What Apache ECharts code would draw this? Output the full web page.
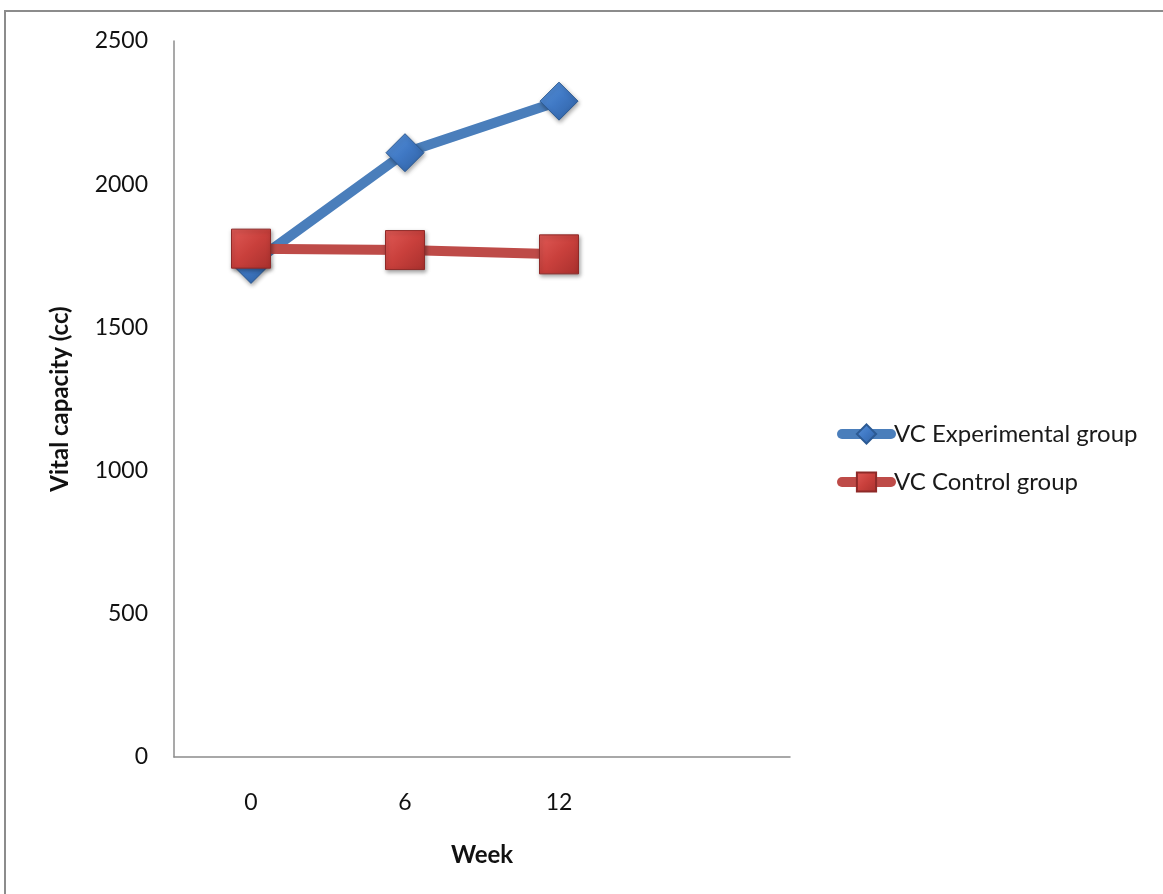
<!DOCTYPE html>
<html>
<head>
<meta charset="utf-8">
<style>
  html, body { margin: 0; padding: 0; background: #fff; }
  #chart { width: 1163px; height: 894px; }
</style>
<script src="https://cdn.jsdelivr.net/npm/echarts@6/dist/echarts.min.js"></script>
</head>
<body>
<div id="chart"></div>
<script>
// Week labels (the trailing empty slot leaves room on the right of the axis)
const weeks = ['0', '6', '12', ''];
// Vital capacity (cc) per group
const experimental = [1720, 2110, 2290];
const control = [1775, 1770, 1755];
const seriesNames = ['VC Experimental group', 'VC Control group'];

const FONT = 'Lato, "Open Sans", sans-serif';
const blue = '#4a7ebb';
const red = '#be4b48';

const chart = echarts.init(document.getElementById('chart'), null, { renderer: 'canvas' });

chart.setOption({
  animation: false,
  backgroundColor: '#ffffff',
  graphic: [{
    type: 'polyline',
    shape: { points: [[5, 900], [5, 11], [1170, 11]] },
    style: { stroke: '#8c8c8c', lineWidth: 2, fill: null },
    silent: true
  }],
  grid: { left: 174, top: 41, width: 616, height: 716 },
  legend: {
    left: 832,
    top: 417,
    orient: 'vertical',
    itemGap: 24,
    itemWidth: 49,
    itemHeight: 24,
    textStyle: { fontFamily: FONT, fontSize: 24, color: '#1a1a1a', padding: [0, 0, 0, -2] },
    data: [
      { name: seriesNames[0], lineStyle: { width: 10, cap: 'round' } },
      { name: seriesNames[1], lineStyle: { width: 10, cap: 'round' } }
    ]
  },
  xAxis: {
    type: 'category',
    data: weeks,
    boundaryGap: true,
    name: 'Week',
    nameLocation: 'middle',
    nameGap: 86,
    nameTextStyle: { fontFamily: FONT, fontSize: 24, fontWeight: 'bold', color: '#111' },
    axisLine: { lineStyle: { color: '#8c8c8c', width: 1.5 } },
    axisTick: { show: false },
    axisLabel: { fontFamily: FONT, fontSize: 23, color: '#111', margin: 34 },
    splitLine: { show: false }
  },
  yAxis: {
    type: 'value',
    min: 0,
    max: 2500,
    interval: 500,
    name: 'Vital capacity (cc)',
    nameLocation: 'middle',
    nameGap: 102,
    nameTextStyle: { fontFamily: FONT, fontSize: 24, fontWeight: 'bold', color: '#111' },
    axisLine: { show: true, lineStyle: { color: '#8c8c8c', width: 1.5 } },
    axisTick: { show: false },
    axisLabel: {
      fontFamily: FONT, fontSize: 23, color: '#111', margin: 26,
      formatter: (v) => String(v)
    },
    splitLine: { show: false }
  },
  series: [
    {
      name: seriesNames[0],
      type: 'line',
      data: experimental,
      symbol: 'diamond',
      symbolSize: 38,
      lineStyle: { color: blue, width: 10 },
      itemStyle: {
        color: new echarts.graphic.LinearGradient(0, 0, 1, 1, [
          { offset: 0, color: '#5b95dc' },
          { offset: 0.5, color: '#3f78c4' },
          { offset: 1, color: '#2f5f9f' }
        ]),
        borderColor: '#2c5a93',
        borderWidth: 1,
        shadowColor: 'rgba(0,0,0,0.35)',
        shadowBlur: 4,
        shadowOffsetX: 1,
        shadowOffsetY: 2
      },
      z: 2
    },
    {
      name: seriesNames[1],
      type: 'line',
      data: control,
      symbol: 'rect',
      symbolSize: 39,
      lineStyle: { color: red, width: 10 },
      itemStyle: {
        color: new echarts.graphic.LinearGradient(0, 0, 1, 1, [
          { offset: 0, color: '#e05a56' },
          { offset: 0.5, color: '#c9403c' },
          { offset: 1, color: '#a8302d' }
        ]),
        borderColor: '#8e2a28',
        borderWidth: 1,
        shadowColor: 'rgba(0,0,0,0.35)',
        shadowBlur: 4,
        shadowOffsetX: 1,
        shadowOffsetY: 2
      },
      z: 3
    }
  ]
});
</script>
</body>
</html>
